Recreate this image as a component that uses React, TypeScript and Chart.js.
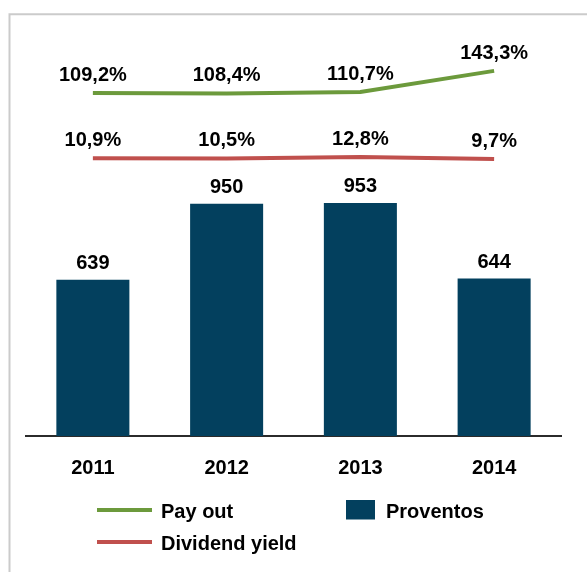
import React, { useEffect, useRef } from "react";
import { Chart, registerables } from "chart.js";

Chart.register(...registerables);

const categories = ["2011", "2012", "2013", "2014"];
const proventos = [639, 950, 953, 644];
const payOut = [109.2, 108.4, 110.7, 143.3];
const dividendYield = [10.9, 10.5, 12.8, 9.7];

const FONT = "'Liberation Sans', Arial, Helvetica, sans-serif";
const BAR_COLOR = "#03405e";
const GREEN = "#6c9a3c";
const RED = "#c0504d";

const framePlugin = {
  id: "frame",
  beforeDraw(chart: any) {
    const ctx = chart.ctx;
    ctx.save();
    ctx.fillStyle = "#ffffff";
    ctx.fillRect(0, 0, chart.width, chart.height);
    ctx.strokeStyle = "#cbcbcb";
    ctx.lineWidth = 2;
    ctx.beginPath();
    ctx.moveTo(9.5, chart.height + 5);
    ctx.lineTo(9.5, 14.3);
    ctx.lineTo(chart.width + 5, 14.3);
    ctx.stroke();
    ctx.restore();
  },
};

const labelPlugin = {
  id: "valueLabels",
  afterDatasetsDraw(chart: any) {
    const ctx = chart.ctx;
    ctx.save();
    ctx.font = `bold 20px ${FONT}`;
    ctx.fillStyle = "#000000";
    ctx.textAlign = "center";
    ctx.textBaseline = "alphabetic";
    chart.data.datasets.forEach((ds: any, i: number) => {
      const meta = chart.getDatasetMeta(i);
      const isBar = meta.type === "bar";
      meta.data.forEach((el: any, j: number) => {
        const v = ds.data[j] as number;
        const text = isBar ? String(v) : v.toFixed(1).replace(".", ",") + "%";
        ctx.fillText(text, el.x, el.y - (isBar ? 11 : 12.3));
      });
    });
    ctx.restore();
  },
};

const legendPlugin = {
  id: "customLegend",
  afterDraw(chart: any) {
    const ctx = chart.ctx;
    const ds = chart.data.datasets;
    ctx.save();
    ctx.font = `bold 20px ${FONT}`;
    ctx.fillStyle = "#000000";
    ctx.textAlign = "left";
    ctx.textBaseline = "middle";
    const items = [
      { ds: ds[0], kind: "line", x: 97, y: 511 },
      { ds: ds[1], kind: "line", x: 97, y: 543 },
      { ds: ds[2], kind: "box", x: 346, y: 511 },
    ];
    items.forEach((it) => {
      if (it.kind === "line") {
        ctx.strokeStyle = it.ds.borderColor;
        ctx.lineWidth = 4;
        ctx.beginPath();
        ctx.moveTo(it.x, it.y - 1);
        ctx.lineTo(it.x + 55, it.y - 1);
        ctx.stroke();
        ctx.fillStyle = "#000";
        ctx.fillText(it.ds.label, it.x + 64, it.y + 1);
      } else {
        ctx.fillStyle = it.ds.backgroundColor;
        ctx.fillRect(it.x, it.y - 11, 29, 19.5);
        ctx.fillStyle = "#000";
        ctx.fillText(it.ds.label, it.x + 40, it.y + 1);
      }
    });
    ctx.restore();
  },
};

export default function App() {
  const canvasRef = useRef<HTMLCanvasElement | null>(null);

  useEffect(() => {
    if (!canvasRef.current) return;
    Chart.defaults.font.family = FONT;
    const chart = new Chart(canvasRef.current, {
      type: "bar",
      data: {
        labels: categories,
        datasets: [
          {
            type: "line",
            label: "Pay out",
            data: payOut,
            borderColor: GREEN,
            backgroundColor: GREEN,
            borderWidth: 4,
            pointRadius: 0,
            tension: 0,
            yAxisID: "y1",
            order: 1,
          } as any,
          {
            type: "line",
            label: "Dividend yield",
            data: dividendYield,
            borderColor: RED,
            backgroundColor: RED,
            borderWidth: 4,
            pointRadius: 0,
            tension: 0,
            yAxisID: "y2",
            order: 2,
          } as any,
          {
            type: "bar",
            label: "Proventos",
            data: proventos,
            backgroundColor: BAR_COLOR,
            borderWidth: 0,
            barPercentage: 0.546,
            categoryPercentage: 1,
            yAxisID: "y",
            order: 3,
          } as any,
        ],
      },
      options: {
        animation: false,
        responsive: true,
        maintainAspectRatio: false,
        layout: { padding: { top: 30, left: 26, right: 26, bottom: 72 } },
        plugins: {
          legend: { display: false },
          tooltip: { enabled: false },
        },
        scales: {
          x: {
            grid: { display: false, drawTicks: false },
            border: { display: true, color: "#2b2b2b", width: 2 },
            ticks: {
              color: "#000000",
              font: { size: 20, weight: "bold", family: FONT },
              padding: 20,
            },
          },
          y: { display: false, min: 0, max: 1661 },
          y1: { display: false, min: -420.7, max: 206.4 },
          y2: { display: false, min: -384.5, max: 193.4 },
        },
      },
      plugins: [framePlugin, labelPlugin, legendPlugin],
    });
    return () => chart.destroy();
  }, []);

  return (
    <div style={{ position: "fixed", left: 0, top: 0, width: 587, height: 572, background: "#fff" }}>
      <canvas ref={canvasRef} />
    </div>
  );
}
